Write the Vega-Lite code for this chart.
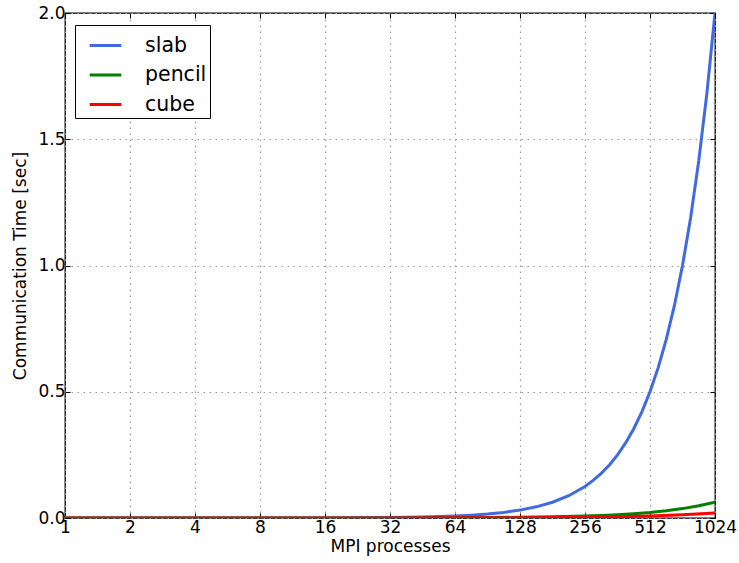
{
  "$schema": "https://vega.github.io/schema/vega-lite/v6.json",
  "width": 650,
  "height": 505,
  "autosize": "none",
  "padding": {"left": 65, "top": 13, "right": 24, "bottom": 45},
  "background": "white",
  "config": {
    "font": "DejaVu Sans",
    "view": {"stroke": "black", "strokeWidth": 1.3},
    "axis": {
      "labelFont": "DejaVu Sans", "titleFont": "DejaVu Sans",
      "labelFontSize": 17, "titleFontSize": 17, "labelColor": "black", "titleColor": "black",
      "titleFontWeight": "normal", "domain": false,
      "tickColor": "black", "tickSize": -5, "tickWidth": 1,
      "grid": true, "gridColor": "#999", "gridDash": [1.5, 4.5], "gridWidth": 1.2
    }
  },
  "data": {"values": [
    {"p": 1, "series": "slab", "t": 0.0000019},
    {"p": 2, "series": "slab", "t": 0.0000076},
    {"p": 4, "series": "slab", "t": 0.0000305},
    {"p": 8, "series": "slab", "t": 0.000122},
    {"p": 16, "series": "slab", "t": 0.000488},
    {"p": 32, "series": "slab", "t": 0.00195},
    {"p": 45.25, "series": "slab", "t": 0.0039},
    {"p": 64, "series": "slab", "t": 0.0078},
    {"p": 76.11, "series": "slab", "t": 0.01105},
    {"p": 90.51, "series": "slab", "t": 0.0156},
    {"p": 107.63, "series": "slab", "t": 0.0221},
    {"p": 128, "series": "slab", "t": 0.03125},
    {"p": 152.22, "series": "slab", "t": 0.0442},
    {"p": 181.02, "series": "slab", "t": 0.0625},
    {"p": 215.27, "series": "slab", "t": 0.0884},
    {"p": 256, "series": "slab", "t": 0.125},
    {"p": 279.17, "series": "slab", "t": 0.1487},
    {"p": 304.44, "series": "slab", "t": 0.1768},
    {"p": 331.99, "series": "slab", "t": 0.2102},
    {"p": 362.04, "series": "slab", "t": 0.25},
    {"p": 394.81, "series": "slab", "t": 0.2973},
    {"p": 430.54, "series": "slab", "t": 0.3536},
    {"p": 469.51, "series": "slab", "t": 0.4204},
    {"p": 512, "series": "slab", "t": 0.5},
    {"p": 558.35, "series": "slab", "t": 0.5946},
    {"p": 608.87, "series": "slab", "t": 0.7071},
    {"p": 663.98, "series": "slab", "t": 0.8409},
    {"p": 724.08, "series": "slab", "t": 1.0},
    {"p": 789.63, "series": "slab", "t": 1.1892},
    {"p": 861.08, "series": "slab", "t": 1.4142},
    {"p": 939.02, "series": "slab", "t": 1.6818},
    {"p": 1024, "series": "slab", "t": 2.0},

    {"p": 1, "series": "pencil", "t": 0.0000019},
    {"p": 2, "series": "pencil", "t": 0.0000054},
    {"p": 4, "series": "pencil", "t": 0.000015},
    {"p": 8, "series": "pencil", "t": 0.000043},
    {"p": 16, "series": "pencil", "t": 0.000122},
    {"p": 32, "series": "pencil", "t": 0.000345},
    {"p": 64, "series": "pencil", "t": 0.00098},
    {"p": 128, "series": "pencil", "t": 0.00276},
    {"p": 181.02, "series": "pencil", "t": 0.00465},
    {"p": 256, "series": "pencil", "t": 0.0078},
    {"p": 304.44, "series": "pencil", "t": 0.0101},
    {"p": 362.04, "series": "pencil", "t": 0.0131},
    {"p": 430.54, "series": "pencil", "t": 0.0170},
    {"p": 512, "series": "pencil", "t": 0.0221},
    {"p": 608.87, "series": "pencil", "t": 0.0287},
    {"p": 724.08, "series": "pencil", "t": 0.0372},
    {"p": 861.08, "series": "pencil", "t": 0.0482},
    {"p": 1024, "series": "pencil", "t": 0.0625},

    {"p": 1, "series": "cube", "t": 0.0000002},
    {"p": 4, "series": "cube", "t": 0.000002},
    {"p": 16, "series": "cube", "t": 0.00008},
    {"p": 32, "series": "cube", "t": 0.0002},
    {"p": 64, "series": "cube", "t": 0.0005},
    {"p": 128, "series": "cube", "t": 0.00126},
    {"p": 256, "series": "cube", "t": 0.00317},
    {"p": 362.04, "series": "cube", "t": 0.00502},
    {"p": 512, "series": "cube", "t": 0.00796},
    {"p": 724.08, "series": "cube", "t": 0.0126},
    {"p": 1024, "series": "cube", "t": 0.02}
  ]},
  "layer": [
    {
      "mark": {"type": "line", "strokeWidth": 3, "clip": true},
      "encoding": {
        "x": {
          "field": "p", "type": "quantitative",
          "scale": {"type": "log", "base": 2, "domain": [1, 1024], "nice": false},
          "axis": {"values": [1, 2, 4, 8, 16, 32, 64, 128, 256, 512, 1024], "format": "d", "title": "MPI processes", "labelPadding": 6, "titlePadding": 3, "labelFlush": false}
        },
        "y": {
          "field": "t", "type": "quantitative",
          "scale": {"domain": [0, 2], "nice": false},
          "axis": {"values": [0, 0.5, 1, 1.5, 2], "format": ".1f", "title": "Communication Time [sec]", "labelPadding": 5, "titlePadding": 8}
        },
        "color": {
          "field": "series", "type": "nominal",
          "scale": {"domain": ["slab", "pencil", "cube"], "range": ["#4169E1", "#008000", "#FF0000"]},
          "legend": {
            "title": null, "orient": "none", "legendX": 10, "legendY": 12,
            "symbolType": "stroke", "symbolSize": 1000, "symbolStrokeWidth": 3, "symbolOffset": 10,
            "labelFontSize": 20.5, "labelFont": "DejaVu Sans", "labelColor": "black", "labelOffset": 22,
            "rowPadding": 1.5, "padding": 3, "strokeColor": "black", "fillColor": "white"
          }
        }
      }
    },
    {
      "mark": {"type": "line", "opacity": 0},
      "encoding": {
        "x": {
          "field": "p", "type": "quantitative",
          "axis": {"orient": "top", "values": [1, 2, 4, 8, 16, 32, 64, 128, 256, 512, 1024], "labels": false, "title": null, "grid": false}
        },
        "y": {
          "field": "t", "type": "quantitative",
          "axis": {"orient": "right", "values": [0, 0.5, 1, 1.5, 2], "labels": false, "title": null, "grid": false}
        },
        "detail": {"field": "series"}
      }
    }
  ],
  "resolve": {"axis": {"x": "independent", "y": "independent"}}
}
